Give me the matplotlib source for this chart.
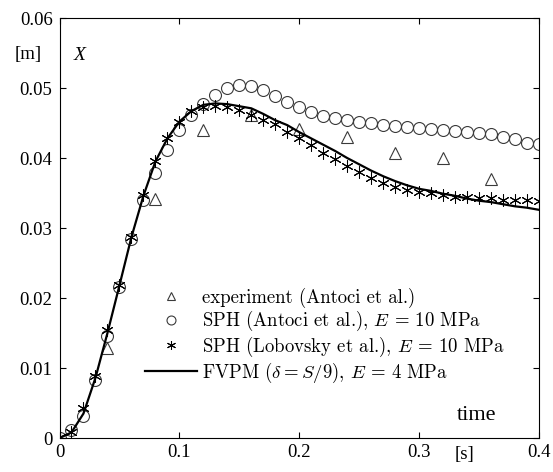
import matplotlib
matplotlib.use("Agg")
import matplotlib.pyplot as plt

plt.rcParams['font.family'] = 'Liberation Serif'
plt.rcParams['mathtext.fontset'] = 'cm'

# experiment (Antoci et al.)
t_exp = [0.04, 0.08, 0.12, 0.16, 0.20, 0.24, 0.28, 0.32, 0.36]
x_exp = [0.0129, 0.0341, 0.0440, 0.0461, 0.0441, 0.0430, 0.0407, 0.0400, 0.0370]

# SPH (Antoci et al.)
t_sph_a = [i / 100 for i in range(41)]
x_sph_a = [0.0, 0.0011, 0.0031, 0.0083, 0.0146, 0.0216, 0.0285, 0.0340, 0.0379, 0.0411,
           0.0440, 0.0461, 0.0477, 0.0490, 0.0500, 0.0504, 0.0503, 0.0497, 0.0489, 0.0480,
           0.0473, 0.0466, 0.0460, 0.0457, 0.0454, 0.0451, 0.0450, 0.0447, 0.0446, 0.0444,
           0.0443, 0.0441, 0.0440, 0.0439, 0.0437, 0.0436, 0.0434, 0.0430, 0.0427, 0.0421,
           0.0420]

# SPH (Lobovsky et al.)
t_sph_l = [i / 100 for i in range(41)]
x_sph_l = [0.0001, 0.0009, 0.0043, 0.0089, 0.0154, 0.0219, 0.0287, 0.0347, 0.0396, 0.0428,
           0.0451, 0.0467, 0.0473, 0.0474, 0.0473, 0.0469, 0.0462, 0.0454, 0.0448, 0.0437,
           0.0428, 0.0419, 0.0407, 0.0398, 0.0389, 0.0380, 0.0371, 0.0365, 0.0359, 0.0355,
           0.0352, 0.0350, 0.0347, 0.0345, 0.0344, 0.0343, 0.0343, 0.0340, 0.0340, 0.0340,
           0.0339]

# FVPM
t_fvpm = [i / 100 for i in range(41)]
x_fvpm = [0.0, 0.0008, 0.0035, 0.0086, 0.0150, 0.0218, 0.0287, 0.0346, 0.0395, 0.0428,
          0.0452, 0.0467, 0.0476, 0.0478, 0.0477, 0.0474, 0.0471, 0.0463, 0.0454, 0.0447,
          0.0437, 0.0428, 0.0419, 0.0410, 0.0400, 0.0391, 0.0382, 0.0374, 0.0367, 0.0361,
          0.0356, 0.0353, 0.0349, 0.0346, 0.0342, 0.0339, 0.0337, 0.0334, 0.0331, 0.0329,
          0.0326]

xticks = [0, 0.1, 0.2, 0.3, 0.4]
xticklabels = ['0', '0.1', '0.2', '0.3', '0.4']
yticks = [0, 0.01, 0.02, 0.03, 0.04, 0.05, 0.06]
yticklabels = ['0', '0.01', '0.02', '0.03', '0.04', '0.05', '0.06']

fig = plt.figure(figsize=(5.53, 4.72), dpi=100)
ax = fig.add_axes([0.1076, 0.072, 0.8671, 0.8898])

ms = 8.6
ax.plot(t_exp, x_exp, linestyle='none', marker='^', ms=ms, mfc='none', mec='#3a3a3a',
        mew=0.8, label='experiment (Antoci et al.)')
ax.plot(t_sph_a, x_sph_a, linestyle='none', marker='o', ms=ms, mfc='none', mec='#3a3a3a',
        mew=0.8, label='SPH (Antoci et al.), $E$ = 10 MPa')
ax.plot(t_sph_l, x_sph_l, linestyle='none', marker=(6, 2, 0), ms=ms, mec='black',
        mew=0.75, label='SPH (Lobovsky et al.), $E$ = 10 MPa')
ax.plot(t_fvpm, x_fvpm, color='black', lw=1.6,
        label=r'FVPM ($\delta = S/9$), $E$ = 4 MPa')

ax.set_xlim(0, 0.4)
ax.set_ylim(0, 0.06)
ax.set_xticks(xticks)
ax.set_xticklabels(xticklabels)
ax.set_yticks(yticks)
ax.set_yticklabels(yticklabels)
ax.tick_params(direction='in', length=4, width=0.8, top=True, right=True,
               labelsize=13.5)
ax.tick_params(axis='x', pad=4)
ax.tick_params(axis='y', pad=5)
for s in ax.spines.values():
    s.set_linewidth(0.8)

leg = ax.legend(loc='upper left', bbox_to_anchor=(0.178, 0.358), frameon=False,
                borderpad=0, borderaxespad=0, handlelength=2.8, handletextpad=0.25,
                labelspacing=0.08, markerscale=0.75,
                prop={'family': 'cmr10', 'size': 13.5})

fig.text(28 / 553, 1 - 55 / 472, '[m]', ha='center', va='center', fontsize=13.5)
fig.text(80 / 553, 1 - 55 / 472, 'X', ha='center', va='center', fontsize=14,
         style='italic')
fig.text(477 / 553, 1 - 415 / 472, 'time', ha='center', va='center', fontsize=16)
fig.text(464 / 553, 1 - 455 / 472, '[s]', ha='center', va='center', fontsize=13.5)

fig.savefig('out.png', dpi=100)
